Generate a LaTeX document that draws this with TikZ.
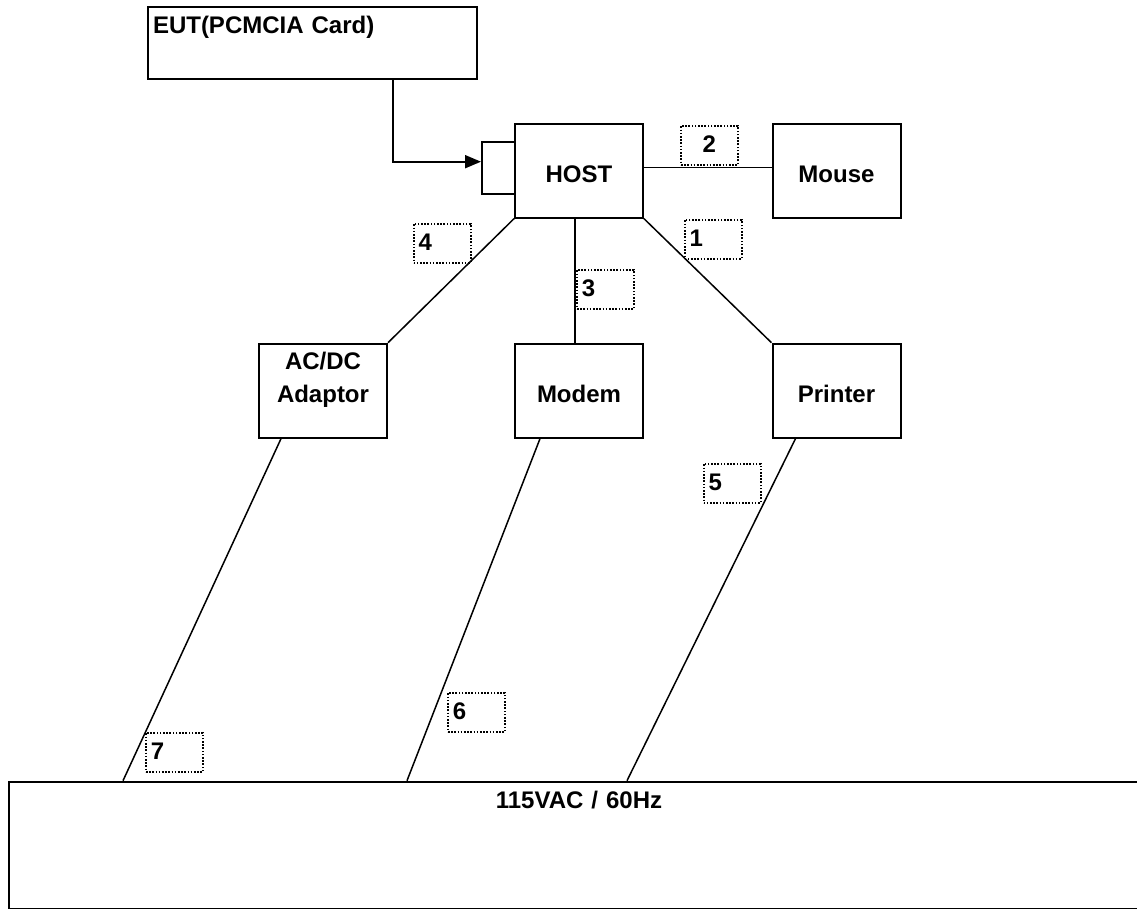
\documentclass[tikz,border=0pt]{standalone}
\usepackage{fontspec}
\setmainfont{Liberation Sans}
\usetikzlibrary{positioning, arrows.meta, calc}

\begin{document}
\begin{tikzpicture}[x=0.5pt, y=-0.5pt,
    font=\bfseries\fontsize{12}{16.3}\selectfont,
    unit/.style={draw, line width=1pt, text width=60pt, inner xsep=2pt, inner ysep=0pt,
                 align=center, text height=29.3pt, text depth=17.7pt},
    tag/.style={draw, dash pattern=on 0.8pt off 0.8pt, line width=0.9pt, text width=23.5pt,
                inner xsep=2.5pt, inner ysep=4.5pt, align=left, text height=9pt,
                text depth=1.5pt, anchor=north west},
    cable/.style={line width=0.75pt}]
  \useasboundingbox (0,0) rectangle (1137,909);

  % equipment
  \node[draw, line width=1pt, anchor=north west, text width=159.5pt, inner xsep=2.5pt,
        inner ysep=4.5pt, align=left, text height=9pt, text depth=18pt] (eut) at (147,6) {EUT(PCMCIA Card)};
  \node[unit, anchor=north west] (host) at (514,122.7) {HOST};
  \node[draw, line width=1pt, minimum width=16.5pt, minimum height=26pt, inner sep=0pt,
        anchor=east] (port) at ([xshift=1pt, yshift=1.5pt]host.west) {};
  \node[unit, right=63.75pt of host] (mouse) {Mouse};
  \node[unit, below=62pt of host] (modem) {Modem};
  \node[unit, left=63pt of modem, text height=13pt, text depth=34pt] (acdc) {AC/DC\\Adaptor};
  \node[unit, right=63.75pt of modem] (printer) {Printer};
  \node[draw, line width=1pt, anchor=north, text width=567.7pt, inner xsep=1pt, inner ysep=0pt,
        align=center, text height=13.6pt, text depth=49.9pt] (mains) at (579,780.7) {115VAC / 60Hz};

  % card into host
  \draw[line width=1pt, -{Triangle[length=8pt, width=6.5pt]}] ([xshift=40.1pt]eut.south) |- ([yshift=3pt]port.west);

  % cables
  \draw[cable] ([yshift=1.5pt]host.east) -- ([yshift=1.5pt]mouse.west);
  \draw[cable] (host.south west) -- (acdc.north east);
  \draw[cable] ([xshift=-2pt]host.south) -- ([xshift=-2pt]modem.north);
  \draw[cable] (host.south east) -- (printer.north west);
  \draw[cable] ([xshift=-21pt]acdc.south) -- ([xshift=57.35pt]mains.north west);
  \draw[cable] ([xshift=-19.5pt]modem.south) -- ([xshift=199.35pt]mains.north west);
  \draw[cable] ([xshift=-20.5pt]printer.south) -- ([xshift=309.35pt]mains.north west);

  % cable numbers
  \node[tag] (t1) at (683.7,219) {1};
  \node[tag, align=center] (t2) at (680,125) {2};
  \node[tag] (t3) at (576,269) {3};
  \node[tag] (t4) at (412.7,223) {4};
  \node[tag] (t5) at (702.7,463) {5};
  \node[tag] (t6) at (447,692) {6};
  \node[tag] (t7) at (145,732) {7};
\end{tikzpicture}
\end{document}
